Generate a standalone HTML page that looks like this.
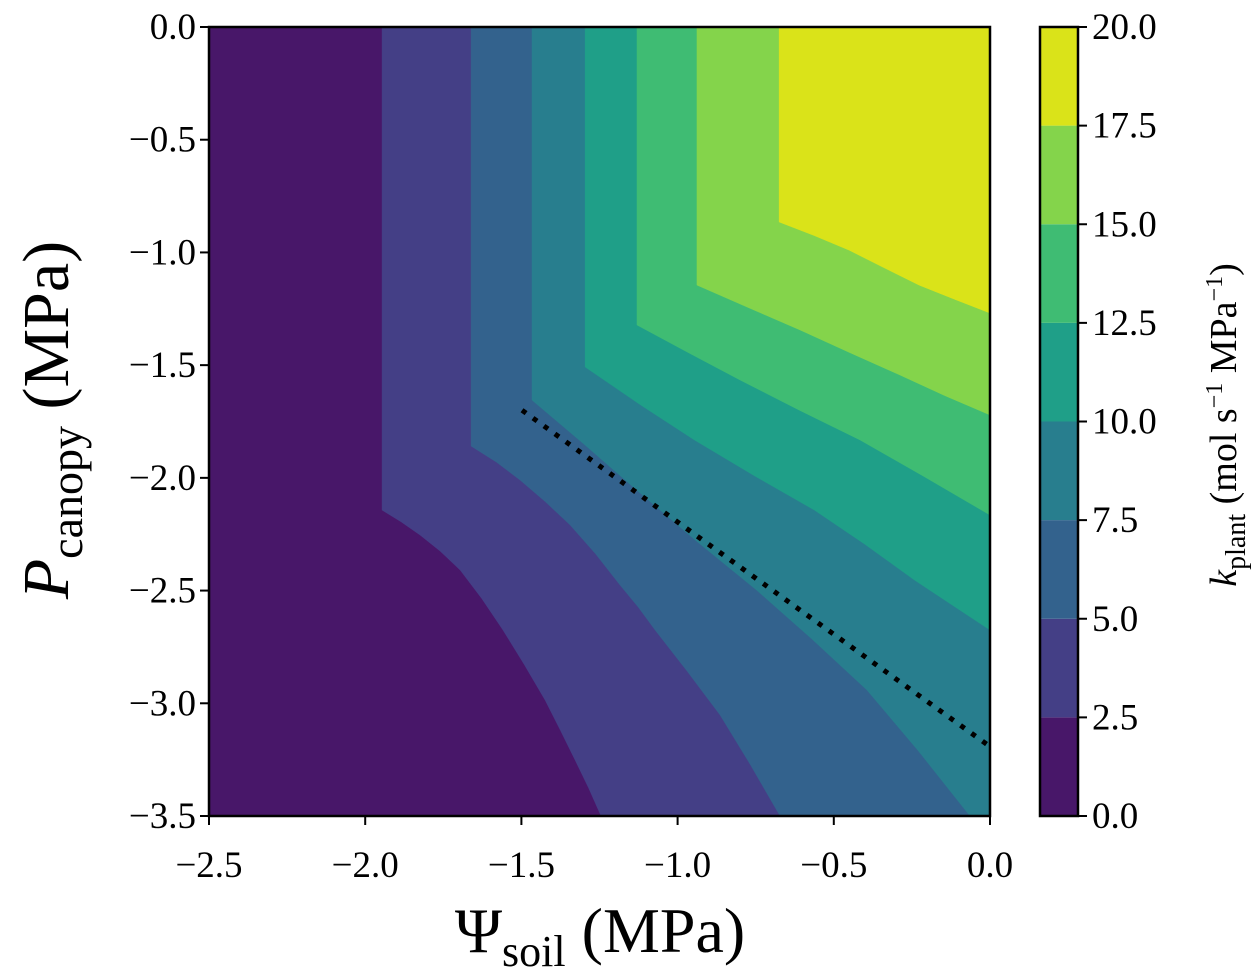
<!DOCTYPE html>
<html><head><meta charset="utf-8"><style>
body{margin:0;background:#fff}
svg{display:block;font-family:"Liberation Serif",serif}
</style></head><body>
<svg id="chart" width="1259" height="978" viewBox="0 0 1259 978" xmlns="http://www.w3.org/2000/svg" style="position:absolute;left:0;top:0">
<defs><clipPath id="pc"><rect x="209" y="27" width="781" height="789"/></clipPath></defs>
<g id="fills" clip-path="url(#pc)"></g>
<g id="overlay"></g>
</svg>
<script>
const NS="http://www.w3.org/2000/svg";
const levels=[0,2.5,5,7.5,10,12.5,15,17.5,20];
const colors=["#481769","#443f86","#33628d","#287e8e","#1f9f88","#3fbc73","#84d44b","#dae319"];
const xTicks=[-2.5,-2.0,-1.5,-1.0,-0.5,0.0];
const yTicks=[0.0,-0.5,-1.0,-1.5,-2.0,-2.5,-3.0,-3.5];
// contour boundaries (psoil, pcanopy) for levels 2.5 ... 17.5
const b25=[[-1.946,0],[-1.946,-2.143],[-1.885,-2.195],[-1.824,-2.254],[-1.760,-2.325],[-1.696,-2.409],[-1.627,-2.535],[-1.559,-2.675],[-1.490,-2.830],[-1.424,-2.986],[-1.375,-3.120],[-1.328,-3.252],[-1.285,-3.375],[-1.245,-3.5]];
const b50=[[-1.661,0],[-1.661,-1.859],[-1.580,-1.930],[-1.504,-2.010],[-1.424,-2.105],[-1.344,-2.209],[-1.262,-2.338],[-1.184,-2.476],[-1.125,-2.575],[-1.072,-2.675],[-0.968,-2.860],[-0.864,-3.052],[-0.768,-3.270],[-0.672,-3.5]];
const b75=[[-1.466,0],[-1.466,-1.655],[-1.300,-1.850],[-1.131,-2.054],[-0.940,-2.280],[-0.747,-2.498],[-0.570,-2.715],[-0.394,-2.941],[-0.230,-3.210],[-0.064,-3.5]];
const b100=[[-1.296,0],[-1.296,-1.508],[-1.120,-1.675],[-0.946,-1.832],[-0.755,-1.990],[-0.562,-2.143],[-0.400,-2.295],[-0.242,-2.453],[-0.120,-2.565],[0,-2.675]];
const b125=[[-1.130,0],[-1.130,-1.322],[-0.965,-1.445],[-0.800,-1.566],[-0.610,-1.700],[-0.416,-1.832],[-0.210,-1.995],[0,-2.165]];
const b150=[[-0.938,0],[-0.938,-1.145],[-0.773,-1.245],[-0.608,-1.344],[-0.448,-1.445],[-0.288,-1.544],[-0.145,-1.635],[0,-1.721]];
const b175=[[-0.675,0],[-0.675,-0.865],[-0.563,-0.925],[-0.451,-0.990],[-0.339,-1.068],[-0.227,-1.145],[-0.113,-1.208],[0,-1.269]];
const boundaries=[b25,b50,b75,b100,b125,b150,b175];
const dotLine=[[-1.498,-1.70],[-0.006,-3.186]];
const X0=209,X1=990,Y0=27,Y1=816,xmin=-2.5,xmax=0,ymin=-3.5,ymax=0;
const sx=v=>X0+(v-xmin)/(xmax-xmin)*(X1-X0);
const sy=v=>Y0+(ymax-v)/(ymax-ymin)*(Y1-Y0);
const cy=v=>Y1-(v-levels[0])/(levels[8]-levels[0])*(Y1-Y0);
function mk(tag,attrs,parent,text){const e=document.createElementNS(NS,tag);for(const k in attrs)e.setAttribute(k,attrs[k]);if(text!==undefined)e.textContent=text;parent.appendChild(e);return e;}
const fills=document.getElementById('fills'),ov=document.getElementById('overlay');
let r=mk('rect',{x:X0,y:Y0,width:X1-X0,height:Y1-Y0,fill:colors[0]},fills);


boundaries.forEach((b,i)=>{
  const pts=b.slice();const last=pts[pts.length-1];
  if(last[1]<=ymin)pts.push([xmax,ymin]);
  pts.push([xmax,ymax]);
  const p=mk('polygon',{points:pts.map(q=>sx(q[0])+','+sy(q[1])).join(' '),fill:colors[i+1],stroke:colors[i+1],'stroke-width':0.5},fills);
  
  
});
let dl=mk('line',{x1:sx(dotLine[0][0]),y1:sy(dotLine[0][1]),x2:sx(dotLine[1][0]),y2:sy(dotLine[1][1]),stroke:'#000','stroke-width':5,'stroke-dasharray':'5 8.5'},ov);


let fr=mk('rect',{x:X0,y:Y0,width:X1-X0,height:Y1-Y0,fill:'none',stroke:'#000','stroke-width':2.5},ov);


const fmt=v=>(v<0?'\u2212':'')+Math.abs(v).toFixed(1);
xTicks.forEach(v=>{const x=sx(v);
  mk('line',{x1:x,x2:x,y1:Y1,y2:Y1+9,stroke:'#000','stroke-width':2},ov);
  const t=mk('text',{x:x,y:877,'text-anchor':'middle','font-size':37},ov,fmt(v));
  
  });
yTicks.forEach(v=>{const y=sy(v);
  mk('line',{x1:X0-9,x2:X0,y1:y,y2:y,stroke:'#000','stroke-width':2},ov);
  const t=mk('text',{x:196,y:y+12,'text-anchor':'end','font-size':37},ov,fmt(v));
  
  });
const CB0=1040,CB1=1078;
colors.forEach((c,i)=>{const rr=mk('rect',{x:CB0,y:cy(levels[i+1]),width:CB1-CB0,height:cy(levels[i])-cy(levels[i+1]),fill:c},ov);
  
  });
mk('rect',{x:CB0,y:Y0,width:CB1-CB0,height:Y1-Y0,fill:'none',stroke:'#000','stroke-width':2.5},ov);
levels.forEach(v=>{const y=cy(v);
  mk('line',{x1:CB1,x2:CB1+9,y1:y,y2:y,stroke:'#000','stroke-width':2},ov);
  const t=mk('text',{x:1092,y:y+12,'font-size':37},ov,v.toFixed(1));
  
  });
</script>
<svg style="position:absolute;left:0;top:0" width="1259" height="978">
<text x="600" y="952" text-anchor="middle" font-family="Liberation Serif, serif" font-size="64">Ψ<tspan font-size="44" dy="14">soil</tspan><tspan dy="-14"> (MPa)</tspan></text>
<text transform="translate(68,420) rotate(-90)" text-anchor="middle" font-family="Liberation Serif, serif" font-size="66"><tspan font-style="italic">P</tspan><tspan font-size="46" dy="14">canopy</tspan><tspan dy="-14"> (MPa)</tspan></text>
<text transform="translate(1236,425) rotate(-90)" text-anchor="middle" font-family="Liberation Serif, serif" font-size="38"><tspan font-style="italic">k</tspan><tspan font-size="28" dy="9">plant</tspan><tspan dy="-9"> (mol s</tspan><tspan font-size="24" dy="-14">−1</tspan><tspan dy="14"> MPa</tspan><tspan font-size="24" dy="-14">−1</tspan><tspan dy="14">)</tspan></text>
</svg>
</body></html>
